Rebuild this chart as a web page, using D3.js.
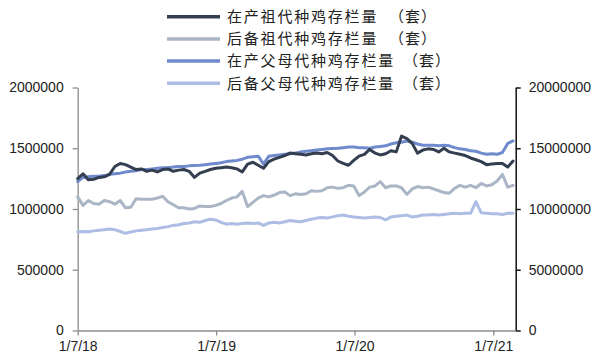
<!DOCTYPE html>
<html>
<head>
<meta charset="utf-8">
<script src="https://cdn.jsdelivr.net/npm/d3@7"></script>
<style>
  html, body { margin: 0; padding: 0; background: #fff; }
  svg { display: block; }
  .tick text { font-family: "Liberation Sans", Arial, sans-serif; font-size: 14px; }
  .legend text { font-family: "Noto Sans CJK SC", sans-serif; font-size: 15px; fill: #222; }
</style>
</head>
<body>
<svg id="chart" width="593" height="356"></svg>
<script>
// Fortnightly sampling dates, starting 7 Jan 2018
const startDate = new Date(2018, 0, 7);
const pointCount = 83;
const dates = d3.range(pointCount).map(i => d3.timeDay.offset(startDate, 14 * i));

// X axis tick dates and their labels
const xTickDates = [new Date(2018, 0, 7), new Date(2019, 0, 7), new Date(2020, 0, 7), new Date(2021, 0, 7)];
const xTickLabels = ["1/7/18", "1/7/19", "1/7/20", "1/7/21"];

// Left axis ticks (祖代, 套) and right axis ticks (父母代, 套)
const leftTicks = [0, 500000, 1000000, 1500000, 2000000];
const rightTicks = [0, 5000000, 10000000, 15000000, 20000000];

// 在产祖代种鸡存栏量 (套) — left axis
const gpProducing = [
  1250000, 1290000, 1240000, 1245000, 1260000, 1265000, 1285000, 1350000, 1375000, 1365000,
  1345000, 1325000, 1330000, 1310000, 1320000, 1305000, 1325000, 1330000, 1310000, 1320000,
  1325000, 1310000, 1260000, 1295000, 1310000, 1325000, 1335000, 1340000, 1345000, 1340000,
  1330000, 1305000, 1370000, 1385000, 1360000, 1335000, 1390000, 1410000, 1425000, 1440000,
  1460000, 1455000, 1450000, 1445000, 1455000, 1460000, 1455000, 1465000, 1440000, 1395000,
  1375000, 1360000, 1400000, 1435000, 1450000, 1490000, 1460000, 1445000, 1455000, 1480000,
  1470000, 1600000, 1580000, 1540000, 1460000, 1485000, 1495000, 1490000, 1470000, 1500000,
  1470000, 1460000, 1450000, 1440000, 1420000, 1405000, 1390000, 1365000, 1370000, 1375000,
  1375000, 1345000, 1395000
];

// 后备祖代种鸡存栏量 (套) — left axis
const gpReserve = [
  1100000, 1030000, 1070000, 1045000, 1040000, 1070000, 1060000, 1040000, 1070000, 1010000,
  1015000, 1085000, 1080000, 1080000, 1080000, 1090000, 1105000, 1060000, 1035000, 1010000,
  1010000, 1000000, 1005000, 1025000, 1020000, 1020000, 1030000, 1045000, 1070000, 1090000,
  1100000, 1145000, 1020000, 1055000, 1090000, 1110000, 1100000, 1115000, 1135000, 1140000,
  1110000, 1125000, 1120000, 1125000, 1150000, 1145000, 1150000, 1175000, 1180000, 1170000,
  1175000, 1195000, 1190000, 1110000, 1140000, 1180000, 1190000, 1225000, 1175000, 1190000,
  1190000, 1175000, 1120000, 1165000, 1185000, 1175000, 1180000, 1165000, 1150000, 1135000,
  1130000, 1170000, 1195000, 1180000, 1195000, 1175000, 1210000, 1190000, 1200000, 1230000,
  1285000, 1180000, 1195000
];

// 在产父母代种鸡存栏量 (套) — right axis
const psProducing = [
  12250000, 12600000, 12650000, 12700000, 12700000, 12750000, 12850000, 12900000, 12950000, 13050000,
  13100000, 13150000, 13250000, 13250000, 13300000, 13350000, 13400000, 13400000, 13450000, 13500000,
  13500000, 13550000, 13580000, 13600000, 13650000, 13700000, 13750000, 13800000, 13900000, 13950000,
  14000000, 14100000, 14250000, 14300000, 14350000, 13700000, 14350000, 14400000, 14450000, 14500000,
  14550000, 14600000, 14700000, 14750000, 14800000, 14850000, 14900000, 14950000, 14980000, 15000000,
  15050000, 15100000, 15100000, 15050000, 15050000, 15000000, 15100000, 15150000, 15200000, 15350000,
  15450000, 15500000, 15600000, 15500000, 15350000, 15250000, 15250000, 15250000, 15200000, 15250000,
  15200000, 15050000, 14950000, 14900000, 14800000, 14750000, 14600000, 14500000, 14550000, 14500000,
  14650000, 15400000, 15600000
];

// 后备父母代种鸡存栏量 (套) — right axis
const psReserve = [
  8130000, 8150000, 8120000, 8200000, 8250000, 8300000, 8350000, 8300000, 8150000, 8000000,
  8100000, 8200000, 8250000, 8300000, 8350000, 8400000, 8480000, 8550000, 8650000, 8700000,
  8800000, 8850000, 8950000, 8900000, 9050000, 9150000, 9100000, 8900000, 8750000, 8800000,
  8750000, 8800000, 8850000, 8800000, 8850000, 8650000, 8850000, 8900000, 8850000, 8950000,
  9050000, 9000000, 8950000, 9050000, 9150000, 9250000, 9300000, 9250000, 9350000, 9450000,
  9500000, 9400000, 9350000, 9300000, 9250000, 9300000, 9350000, 9300000, 9100000, 9350000,
  9400000, 9450000, 9500000, 9350000, 9400000, 9500000, 9500000, 9550000, 9500000, 9550000,
  9600000, 9650000, 9600000, 9650000, 9650000, 10600000, 9700000, 9650000, 9600000, 9600000,
  9550000, 9650000, 9650000
];

const seriesNames = [
  "在产祖代种鸡存栏量",
  "后备祖代种鸡存栏量",
  "在产父母代种鸡存栏量",
  "后备父母代种鸡存栏量"
];
const unitLabel = "（套）";

const colors = {
  gpProducing: "#333e50",
  gpReserve: "#aab5c5",
  psProducing: "#6f8acd",
  psReserve: "#adbde3"
};

const svg = d3.select("#chart");
const plot = { left: 77.7, right: 515.7, top: 87.5, bottom: 330.5 };

const x = d3.scaleTime()
  .domain([startDate, new Date(2021, 2, 7)])
  .range([plot.left, plot.right]);
const yLeft = d3.scaleLinear().domain([0, 2000000]).range([plot.bottom, plot.top]);
const yRight = d3.scaleLinear().domain([0, 20000000]).range([plot.bottom, plot.top]);

// Left axis
const gLeft = svg.append("g")
  .attr("transform", `translate(${plot.left},0)`)
  .call(d3.axisLeft(yLeft).tickValues(leftTicks).tickSize(5).tickSizeOuter(0).tickPadding(9).tickFormat(d3.format("d")));
gLeft.select(".domain").attr("stroke", "#8c8c8c").attr("stroke-width", 1.3);
gLeft.selectAll(".tick line").attr("stroke", "#8c8c8c").attr("stroke-width", 1.3);
gLeft.selectAll(".tick text").attr("fill", "#222");

// Right axis
const gRight = svg.append("g")
  .attr("transform", `translate(${plot.right},0)`)
  .call(d3.axisRight(yRight).tickValues(rightTicks).tickSize(5).tickSizeOuter(0).tickPadding(8).tickFormat(d3.format("d")));
gRight.select(".domain").attr("stroke", "#111").attr("stroke-width", 1.5);
gRight.selectAll(".tick line").attr("stroke", "#111").attr("stroke-width", 1.5);
gRight.selectAll(".tick text").attr("fill", "#222");

// Bottom axis
const gBottom = svg.append("g")
  .attr("transform", `translate(0,${plot.bottom})`)
  .call(d3.axisBottom(x).tickValues(xTickDates).tickSize(5).tickSizeOuter(0).tickPadding(6)
    .tickFormat((d, i) => xTickLabels[i]));
gBottom.select(".domain").attr("stroke", "#8c8c8c").attr("stroke-width", 1.3);
gBottom.selectAll(".tick line").attr("stroke", "#8c8c8c").attr("stroke-width", 1.3);
gBottom.selectAll(".tick text").attr("fill", "#222");

// Series lines
const lineLeft = d3.line().x((d, i) => x(dates[i])).y(d => yLeft(d));
const lineRight = d3.line().x((d, i) => x(dates[i])).y(d => yRight(d));

const drawOrder = [
  { data: psReserve, line: lineRight, color: colors.psReserve },
  { data: gpReserve, line: lineLeft, color: colors.gpReserve },
  { data: psProducing, line: lineRight, color: colors.psProducing },
  { data: gpProducing, line: lineLeft, color: colors.gpProducing }
];
svg.append("g").selectAll("path")
  .data(drawOrder)
  .join("path")
  .attr("d", s => s.line(s.data))
  .attr("fill", "none")
  .attr("stroke", s => s.color)
  .attr("stroke-width", 3)
  .attr("stroke-linejoin", "round")
  .attr("stroke-linecap", "round");

// Legend
const legendItems = [
  { name: seriesNames[0], color: colors.gpProducing, unitX: 389 },
  { name: seriesNames[1], color: colors.gpReserve, unitX: 389 },
  { name: seriesNames[2], color: colors.psProducing, unitX: 403 },
  { name: seriesNames[3], color: colors.psReserve, unitX: 403 }
];
const legend = svg.append("g").attr("class", "legend");
const rowY = d3.scaleLinear().domain([0, 3]).range([16.8, 83.2]);
const rows = legend.selectAll("g").data(legendItems).join("g")
  .attr("transform", (d, i) => `translate(0,${rowY(i)})`);
rows.append("line")
  .attr("x1", 167).attr("x2", 220).attr("y1", 0).attr("y2", 0)
  .attr("stroke", d => d.color).attr("stroke-width", 3.5);
rows.append("text")
  .attr("x", 227).attr("y", 0).attr("dy", "0.36em")
  .attr("letter-spacing", "1.8px")
  .text(d => d.name);
rows.append("text")
  .attr("x", d => d.unitX).attr("y", 0).attr("dy", "0.36em")
  .attr("letter-spacing", "1px")
  .text(unitLabel);
</script>
</body>
</html>
